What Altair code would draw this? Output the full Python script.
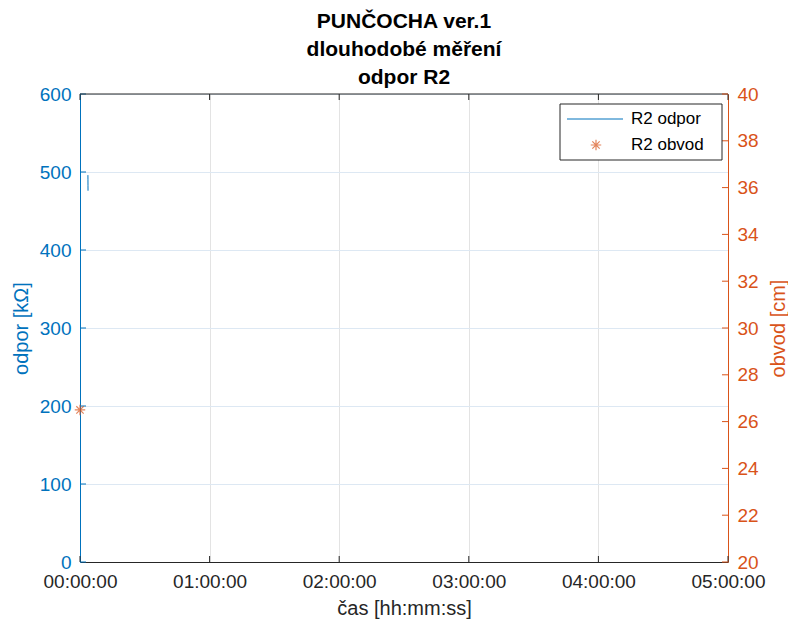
import altair as alt
import pandas as pd

# ---- data ----
r_time = [220, 221, 222, 223]          # seconds
r_odpor = [496, 490, 483, 476]         # kOhm
o_time = [0]
o_obvod = [26.5]                       # cm

x_ticks = [0, 3600, 7200, 10800, 14400, 18000]
yl_ticks = [0, 100, 200, 300, 400, 500, 600]
yr_ticks = [20, 22, 24, 26, 28, 30, 32, 34, 36, 38, 40]

BLUE = "#0072BD"
ORANGE = "#D95319"
DARK = "#262626"
FONT = "Liberation Sans"
W, H = 648, 468

xs = alt.Scale(domain=[0, 18000], nice=False, zero=False)
yls = alt.Scale(domain=[0, 600], nice=False)
yrs = alt.Scale(domain=[20, 40], nice=False, zero=False)

df_r = pd.DataFrame({"t": r_time, "v": r_odpor})
df_o = pd.DataFrame({"t": o_time, "v": o_obvod})
df_xt = pd.DataFrame({"t": x_ticks})
df_ylt = pd.DataFrame({"v": yl_ticks})
df_yrt = pd.DataFrame({"v": yr_ticks})
one = pd.DataFrame({"a": [0]})

x_axis = alt.Axis(
    values=x_ticks, labelExpr="utcFormat(datum.value*1000, '%H:%M:%S')",
    title="čas [hh:mm:ss]", grid=True, gridColor="#E3E3E3", ticks=False,
    domainColor=DARK, labelColor=DARK, titleColor=DARK, labelFontSize=19,
    titleFontSize=20, labelPadding=10, titlePadding=7, labelFont=FONT,
    titleFont=FONT, titleFontWeight="normal", labelFlush=False,
)
yl_axis = alt.Axis(
    orient="left", values=yl_ticks, title="odpor [kΩ]", grid=True,
    gridColor="#DDE8F3", ticks=False, domainColor=BLUE, labelColor=BLUE,
    titleColor=BLUE, labelFontSize=19, titleFontSize=20, labelPadding=9,
    titlePadding=8, labelFont=FONT, titleFont=FONT, titleFontWeight="normal")
yr_axis = alt.Axis(
    orient="right", values=yr_ticks, title="obvod [cm]", grid=False,
    ticks=False, domainColor=ORANGE, labelColor=ORANGE, titleColor=ORANGE,
    labelFontSize=19, titleFontSize=20, labelPadding=9,
    titleAngle=270, titleX=50, titleY=H / 2, titleBaseline="middle",
    titleAlign="center", labelFont=FONT, titleFont=FONT,
    titleFontWeight="normal")

X = alt.X("t:Q", scale=xs, axis=x_axis)
YL = alt.Y("v:Q", scale=yls, axis=yl_axis)
YR = alt.Y("v:Q", scale=yrs, axis=yr_axis)

left_line = alt.Chart(df_r).mark_line(color=BLUE, strokeWidth=1).encode(x=X, y=YL)
left_ticks = alt.Chart(df_ylt).mark_rule(color=BLUE, strokeWidth=1).encode(
    y=YL, x=alt.value(0), x2=alt.value(6))
bottom_ticks = alt.Chart(df_xt).mark_rule(color=DARK, strokeWidth=1).encode(
    x=X, y=alt.value(H), y2=alt.value(H - 6))
top_ticks = alt.Chart(df_xt).mark_rule(color=DARK, strokeWidth=1).encode(
    x=X, y=alt.value(0), y2=alt.value(6))
top_border = alt.Chart(one).mark_rule(color=DARK, strokeWidth=1).encode(
    x=alt.value(0), x2=alt.value(W), y=alt.value(0))

left = alt.layer(left_line, left_ticks, bottom_ticks, top_ticks, top_border)

AST = "M-1,0L1,0M0,-1L0,1M-0.7,-0.7L0.7,0.7M-0.7,0.7L0.7,-0.7"

right_pts = alt.Chart(df_o).mark_point(
    shape=AST, size=110, color=ORANGE, filled=False, strokeWidth=1.2).encode(x=X, y=YR)
right_ticks = alt.Chart(df_yrt).mark_rule(color=ORANGE, strokeWidth=1).encode(
    y=YR, x=alt.value(W), x2=alt.value(W - 6))

right = alt.layer(right_pts, right_ticks)

# ---- legend ----
leg_box = alt.Chart(one).mark_rect(fill="white", stroke=DARK, strokeWidth=1).encode(
    x=alt.value(480), x2=alt.value(642), y=alt.value(10), y2=alt.value(66))
leg_line = alt.Chart(one).mark_rule(color=BLUE, strokeWidth=1).encode(
    x=alt.value(487), x2=alt.value(543), y=alt.value(25))
leg_pt = alt.Chart(one).mark_point(
    shape=AST, size=110, color=ORANGE, filled=False, strokeWidth=1.2).encode(
    x=alt.value(516), y=alt.value(51))
leg_t1 = alt.Chart(one).mark_text(
    text="R2 odpor", align="left", baseline="middle", font=FONT, fontSize=17,
    color="#000000").encode(x=alt.value(551), y=alt.value(25))
leg_t2 = alt.Chart(one).mark_text(
    text="R2 obvod", align="left", baseline="middle", font=FONT, fontSize=17,
    color="#000000").encode(x=alt.value(551), y=alt.value(51))
legend = alt.layer(leg_box, leg_line, leg_pt, leg_t1, leg_t2)

chart = alt.layer(left, right, legend).resolve_scale(y="independent").properties(
    width=W, height=H,
    title=alt.TitleParams(
        text=["PUNČOCHA ver.1", "dlouhodobé měření", "odpor R2"],
        font=FONT, fontSize=21, fontWeight="bold", color="#000000",
        lineHeight=28, anchor="middle", offset=-3),
    autosize=alt.AutoSizeParams(type="none"),
    padding={"left": 72, "top": 86, "right": 60, "bottom": 57},
).configure_view(stroke=None).configure(background="white")

chart.save("out.html", embed_options={"renderer": "svg", "actions": False})
